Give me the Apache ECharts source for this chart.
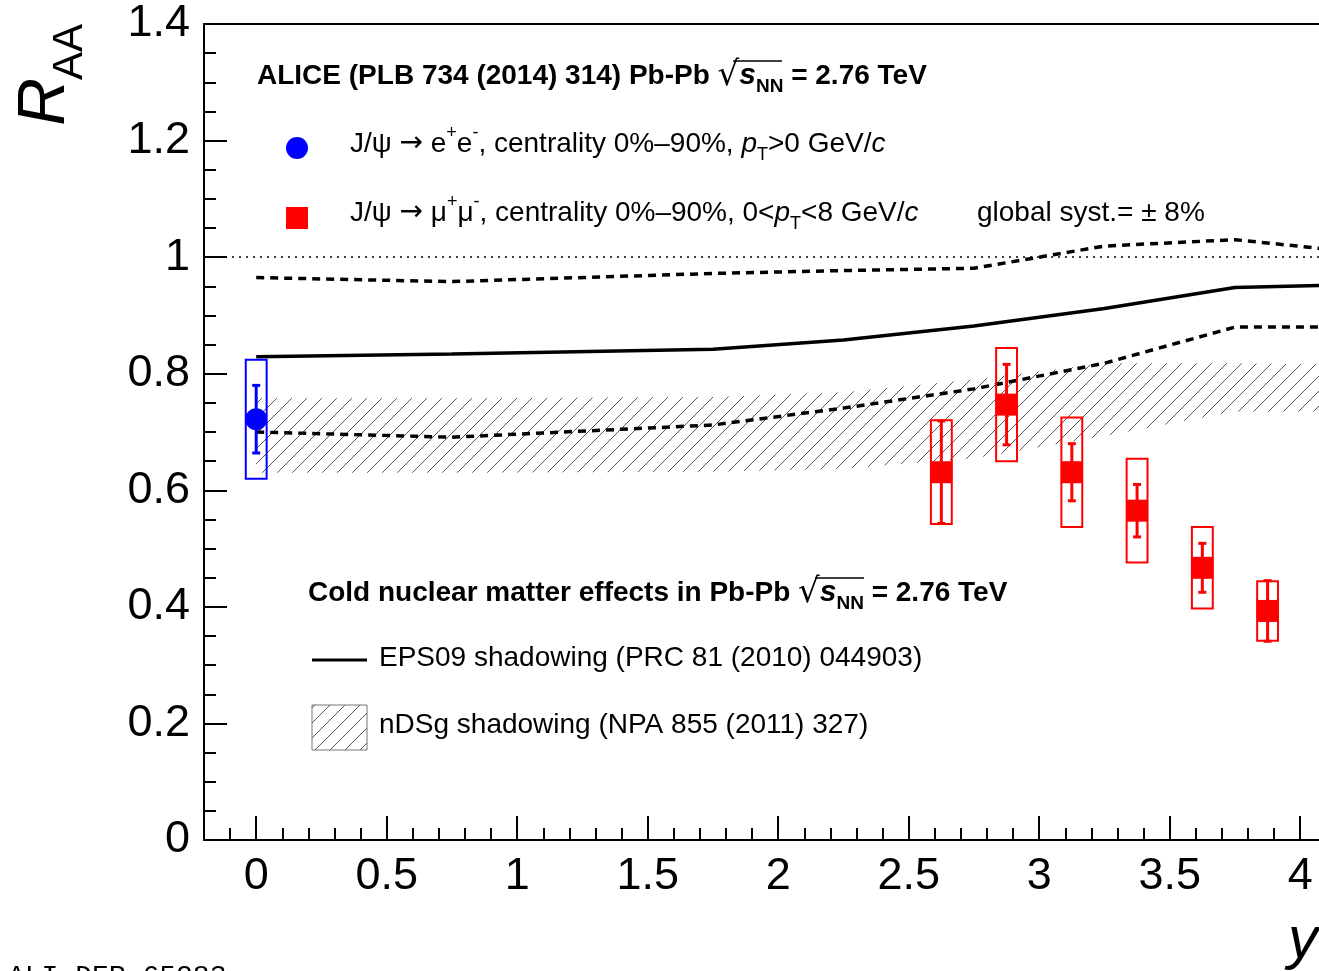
<!DOCTYPE html>
<html>
<head>
<meta charset="utf-8">
<script src="https://cdn.jsdelivr.net/npm/echarts@6/dist/echarts.min.js"></script>
<style>
html,body{margin:0;padding:0;background:#fff;overflow:hidden}
#c{width:1319px;height:971px}
</style>
</head>
<body>
<div id="c"></div>
<script>
// ---------------- data ----------------
const xMajorTicks = [0, 0.5, 1, 1.5, 2, 2.5, 3, 3.5, 4];
const xTickLabels = ['0', '0.5', '1', '1.5', '2', '2.5', '3', '3.5', '4'];

// ALICE J/psi -> e+e- (mid-rapidity)
const eeX = [0];
const eeY = [0.722];
const eeStat = [0.058];
const eeSyst = [0.102];

// ALICE J/psi -> mu+mu- (forward rapidity)
const mmX = [2.625, 2.875, 3.125, 3.375, 3.625, 3.875];
const mmY = [0.631, 0.747, 0.631, 0.565, 0.467, 0.393];
const mmStat = [0.088, 0.069, 0.049, 0.045, 0.042, 0.052];
const mmSyst = [0.089, 0.097, 0.094, 0.089, 0.070, 0.051];

// EPS09 shadowing
const theoryX = [0, 0.75, 1.75, 2.25, 2.75, 3.25, 3.75, 4.25];
const eps09Central = [0.829, 0.834, 0.842, 0.858, 0.882, 0.912, 0.948, 0.953];
const eps09Upper = [0.965, 0.958, 0.972, 0.977, 0.981, 1.019, 1.030, 1.007];
const eps09Lower = [0.700, 0.691, 0.712, 0.741, 0.774, 0.818, 0.880, 0.880];

// nDSg shadowing band
const ndsgLower = [0.630, 0.630, 0.632, 0.637, 0.655, 0.693, 0.735, 0.735];
const ndsgUpper = [0.758, 0.758, 0.760, 0.768, 0.790, 0.818, 0.818, 0.815];

// ---------------- helpers ----------------
const FONT = '"Liberation Sans", Arial, Helvetica, sans-serif';
const BLUE = '#0000ff';
const RED = '#ff0000';

function makeHatch() {
  const w = 15, h = 15;
  const cv = document.createElement('canvas');
  cv.width = w; cv.height = h;
  const ctx = cv.getContext('2d');
  ctx.strokeStyle = '#555';
  ctx.lineWidth = 1;
  ctx.beginPath();
  ctx.moveTo(-1, h + 1); ctx.lineTo(w + 1, -1);
  ctx.stroke();
  return { image: cv, repeat: 'repeat' };
}
const hatch = makeHatch();

const pairs = (xs, ys) => xs.map((x, i) => [x, ys[i]]);
const triples = (xs, ys, es) => xs.map((x, i) => [x, ys[i], es[i]]);

// minor tick positions every 0.1 from -0.2 to 4.0
const xMinorTicks = [];
for (let i = -2; i <= 40; i++) xMinorTicks.push(i / 10);

const BOX_HALF = 0.04;

function systBox(color) {
  return function (params, api) {
    const x = api.value(0), y = api.value(1), e = api.value(2);
    const p1 = api.coord([x - BOX_HALF, y + e]);
    const p2 = api.coord([x + BOX_HALF, y - e]);
    return {
      type: 'rect',
      shape: { x: p1[0], y: p1[1], width: p2[0] - p1[0], height: p2[1] - p1[1] },
      style: { fill: 'none', stroke: color, lineWidth: 2 }
    };
  };
}
function statBar(color) {
  return function (params, api) {
    const x = api.value(0), y = api.value(1), e = api.value(2);
    const t = api.coord([x, y + e]);
    const b = api.coord([x, y - e]);
    return {
      type: 'group',
      children: [
        { type: 'line', shape: { x1: t[0], y1: t[1], x2: b[0], y2: b[1] }, style: { stroke: color, lineWidth: 3 } },
        { type: 'rect', shape: { x: t[0] - 4, y: t[1] - 1.5, width: 8, height: 3 }, style: { fill: color } },
        { type: 'rect', shape: { x: b[0] - 4, y: b[1] - 1.5, width: 8, height: 3 }, style: { fill: color } }
      ]
    };
  };
}
function bandItem(params, api) {
  if (params.dataIndex !== 0) return null;
  const pts = [];
  for (let i = 0; i < theoryX.length; i++) pts.push(api.coord([theoryX[i], ndsgUpper[i]]));
  for (let i = theoryX.length - 1; i >= 0; i--) pts.push(api.coord([theoryX[i], ndsgLower[i]]));
  return { type: 'polygon', shape: { points: pts }, style: { fill: hatch, stroke: 'none' } };
}

const rich = {
  n: { fontSize: 28, lineHeight: 40, fontFamily: FONT, fill: '#000' },
  ar: { fontSize: 28, lineHeight: 40, fontFamily: '"DejaVu Sans", sans-serif', fill: '#000' },
  i: { fontSize: 28, lineHeight: 40, fontFamily: FONT, fontStyle: 'italic', fill: '#000' },
  sup: { fontSize: 18, lineHeight: 20, fontFamily: FONT, verticalAlign: 'top', fill: '#000' },
  sub: { fontSize: 18, lineHeight: 20, fontFamily: FONT, verticalAlign: 'bottom', fill: '#000' },
  b: { fontSize: 28, lineHeight: 40, fontFamily: FONT, fontWeight: 'bold', fill: '#000' },
  bi: { fontSize: 30, lineHeight: 40, fontFamily: FONT, fontWeight: 'bold', fontStyle: 'italic', fill: '#000' },
  bsub: { fontSize: 19, lineHeight: 22, fontFamily: FONT, fontWeight: 'bold', verticalAlign: 'bottom', fill: '#000' },
  sq: { fontSize: 34, lineHeight: 40, fontFamily: '"DejaVu Sans", sans-serif', fill: '#000' }
};

function txt(x, y, text, extra) {
  return Object.assign({
    type: 'text', x: x, y: y, z: 100,
    style: { text: text, rich: rich, fontFamily: FONT, fontSize: 28, fill: '#000', align: 'left', verticalAlign: 'middle' }
  }, extra || {});
}

const chart = echarts.init(document.getElementById('c'), null, { renderer: 'canvas' });

const option = {
  animation: false,
  backgroundColor: '#fff',
  grid: { left: 204, top: 24, right: 0, bottom: 131, containLabel: false },
  xAxis: [
    {
      type: 'value', position: 'bottom', min: -0.2, max: 4.072,
      axisLine: { show: true, onZero: false, lineStyle: { color: '#000', width: 2 } },
      axisTick: { show: true, inside: true, length: 24, customValues: xMajorTicks, lineStyle: { color: '#000', width: 2 } },
      axisLabel: {
        show: true, customValues: xMajorTicks, margin: 14,
        formatter: v => xTickLabels[xMajorTicks.indexOf(v)] ?? String(v),
        fontSize: 45, fontFamily: FONT, color: '#000'
      },
      splitLine: { show: false }
    },
    {
      type: 'value', position: 'bottom', min: -0.2, max: 4.072,
      axisLine: { show: false, onZero: false },
      axisTick: { show: true, inside: true, length: 12, customValues: xMinorTicks, lineStyle: { color: '#000', width: 2 } },
      axisLabel: { show: false },
      splitLine: { show: false }
    },
    {
      type: 'value', position: 'top', min: -0.2, max: 4.072,
      axisLine: { show: true, onZero: false, lineStyle: { color: '#000', width: 2 } },
      axisTick: { show: false }, axisLabel: { show: false }, splitLine: { show: false }
    }
  ],
  yAxis: {
    type: 'value', min: 0, max: 1.4, interval: 0.2,
    axisLine: { show: true, onZero: false, lineStyle: { color: '#000', width: 2 } },
    axisTick: { show: true, inside: true, length: 23, lineStyle: { color: '#000', width: 2 } },
    minorTick: { show: true, splitNumber: 4, length: 12, lineStyle: { color: '#000', width: 2 } },
    axisLabel: { margin: 14, fontSize: 45, fontFamily: FONT, color: '#000', padding: [6, 0, 0, 0] },
    splitLine: { show: false }
  },
  series: [
    {
      type: 'custom', name: 'nDSg', xAxisIndex: 0, clip: true, z: 1,
      data: theoryX.map((x, i) => [x, ndsgLower[i], ndsgUpper[i]]),
      renderItem: bandItem, silent: true
    },
    {
      type: 'line', name: 'unity', xAxisIndex: 0, data: [], z: 2,
      markLine: {
        silent: true, symbol: 'none', label: { show: false },
        lineStyle: { color: '#000', width: 1.5, type: [2, 5] },
        data: [{ yAxis: 1 }]
      }
    },
    {
      type: 'line', name: 'EPS09', xAxisIndex: 0, data: pairs(theoryX, eps09Central),
      showSymbol: false, z: 3, lineStyle: { color: '#000', width: 3.5 }
    },
    {
      type: 'line', name: 'EPS09 upper', xAxisIndex: 0, data: pairs(theoryX, eps09Upper),
      showSymbol: false, z: 3, lineStyle: { color: '#000', width: 3.5, type: [8, 6] }
    },
    {
      type: 'line', name: 'EPS09 lower', xAxisIndex: 0, data: pairs(theoryX, eps09Lower),
      showSymbol: false, z: 3, lineStyle: { color: '#000', width: 3.5, type: [8, 6] }
    },
    {
      type: 'custom', name: 'ee syst', xAxisIndex: 0, z: 4,
      data: triples(eeX, eeY, eeSyst), renderItem: systBox(BLUE)
    },
    {
      type: 'custom', name: 'mm syst', xAxisIndex: 0, z: 4,
      data: triples(mmX, mmY, mmSyst), renderItem: systBox(RED)
    },
    {
      type: 'custom', name: 'ee stat', xAxisIndex: 0, z: 5,
      data: triples(eeX, eeY, eeStat), renderItem: statBar(BLUE)
    },
    {
      type: 'custom', name: 'mm stat', xAxisIndex: 0, z: 5,
      data: triples(mmX, mmY, mmStat), renderItem: statBar(RED)
    },
    {
      type: 'scatter', name: 'ee', xAxisIndex: 0, z: 6,
      data: pairs(eeX, eeY), symbol: 'circle', symbolSize: 22, itemStyle: { color: BLUE, opacity: 1 }
    },
    {
      type: 'scatter', name: 'mm', xAxisIndex: 0, z: 6,
      data: pairs(mmX, mmY), symbol: 'rect', symbolSize: 22, itemStyle: { color: RED, opacity: 1 }
    }
  ],
  graphic: [
    txt(257, 76, '{b|ALICE (PLB 734 (2014) 314) Pb-Pb }{sq|√}{bi|s}{bsub|NN}{b| = 2.76 TeV}'),
    { type: 'line', z: 100, shape: { x1: 733, y1: 61, x2: 782, y2: 61 }, style: { stroke: '#000', lineWidth: 1.5 } },
    { type: 'circle', z: 100, shape: { cx: 297, cy: 148, r: 11 }, style: { fill: BLUE } },
    txt(350, 144, '{n|J/ψ }{ar|→}{n| e}{sup|+}{n|e}{sup|-}{n|, centrality 0%–90%, }{i|p}{sub|T}{n|>0 GeV/}{i|c}'),
    { type: 'rect', z: 100, shape: { x: 286, y: 207, width: 22, height: 22 }, style: { fill: RED } },
    txt(350, 213, '{n|J/ψ }{ar|→}{n| μ}{sup|+}{n|μ}{sup|-}{n|, centrality 0%–90%, 0<}{i|p}{sub|T}{n|<8 GeV/}{i|c}'),
    txt(977, 213, '{n|global syst.= ± 8%}'),
    txt(308, 593, '{b|Cold nuclear matter effects in Pb-Pb }{sq|√}{bi|s}{bsub|NN}{b| = 2.76 TeV}'),
    { type: 'line', z: 100, shape: { x1: 815, y1: 578, x2: 864, y2: 578 }, style: { stroke: '#000', lineWidth: 1.5 } },
    { type: 'line', z: 100, shape: { x1: 312, y1: 660, x2: 367, y2: 660 }, style: { stroke: '#000', lineWidth: 3 } },
    txt(379, 658, '{n|EPS09 shadowing (PRC 81 (2010) 044903)}'),
    { type: 'rect', z: 100, shape: { x: 312, y: 705, width: 55, height: 45 }, style: { fill: hatch, stroke: '#777', lineWidth: 1 } },
    txt(379, 725, '{n|nDSg shadowing (NPA 855 (2011) 327)}'),
    {
      type: 'text', z: 100, x: 46, y: 102, rotation: Math.PI / 2,
      style: { text: 'R', fontFamily: FONT, fontSize: 66, fontStyle: 'italic', fill: '#000', align: 'center', verticalAlign: 'middle' }
    },
    {
      type: 'text', z: 100, x: 70, y: 52, rotation: Math.PI / 2,
      style: { text: 'AA', fontFamily: FONT, fontSize: 42, fill: '#000', align: 'center', verticalAlign: 'middle' }
    },
    {
      type: 'text', z: 100, x: 1288, y: 941,
      style: { text: 'y', fontFamily: FONT, fontSize: 60, fontStyle: 'italic', fill: '#000', align: 'left', verticalAlign: 'middle' }
    },
    {
      type: 'text', z: 100, x: 8, y: 977,
      style: { text: 'ALI-DER-65283', fontFamily: '"Liberation Mono", "Courier New", monospace', fontSize: 28, fill: '#000', align: 'left', verticalAlign: 'middle' }
    }
  ]
};
chart.setOption(option);
</script>
</body>
</html>
